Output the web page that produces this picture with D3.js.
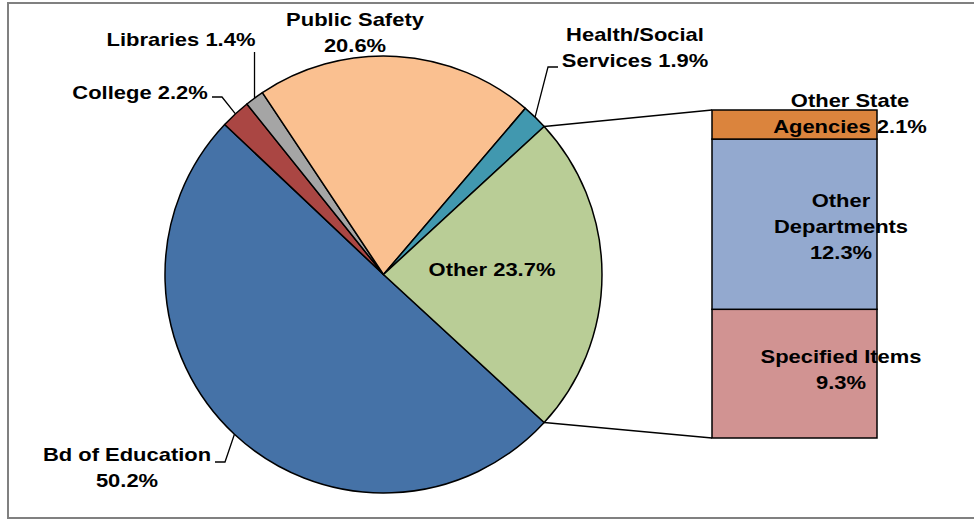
<!DOCTYPE html>
<html>
<head>
<meta charset="utf-8">
<script src="https://cdn.jsdelivr.net/npm/d3@7"></script>
<style>
  body { margin: 0; background: #fff; }
  text { font-family: "Liberation Sans", Arial, sans-serif; font-weight: bold; font-size: 18px; fill: #000; }
</style>
</head>
<body>
<div class="container"></div>
<script>
// pie slices, clockwise from the lower right
var pieNames = ['Bd of Education', 'College', 'Libraries', 'Public Safety', 'Health/Social Services', 'Other'];
var pieValues = [50.2, 2.2, 1.4, 20.6, 1.9, 23.7];
var pieColors = ['#4572A7', '#AA4643', '#A5A5A5', '#FAC090', '#4198AF', '#B9CD96'];

// breakdown of "Other", bottom to top
var barNames = ['Specified Items', 'Other Departments', 'Other State Agencies'];
var barValues = [9.3, 12.3, 2.1];
var barColors = ['#D19392', '#93A9CF', '#DB843D'];

const WIDTH = 974;
const HEIGHT = 520;
const CX = 383.5, CY = 274.5, R = 218.5;
const BAR_X = 712, BAR_W = 165, BAR_TOP = 110, BAR_BOTTOM = 438;
const STRETCH = 1.22;

var translate = function (x, y) {
  return "translate(" + x + "," + y + ")";
};

var svg = d3.select('.container').append('svg')
  .attr('width', WIDTH)
  .attr('height', HEIGHT);

svg.append('rect')
  .attr('x', 8).attr('y', 3)
  .attr('width', 990).attr('height', 515)
  .attr('fill', 'none')
  .attr('stroke', '#808080')
  .attr('stroke-width', 2);

var otherIdx = pieNames.indexOf('Other');
var start = Math.PI / 2 + (pieValues[otherIdx] / 100) * Math.PI;

var pie = d3.pie().sort(null)
  .startAngle(start)
  .endAngle(start + 2 * Math.PI);
var arcs = pie(pieValues);
var arc = d3.arc().innerRadius(0).outerRadius(R);

var g = svg.append('g').attr('transform', translate(CX, CY));
g.selectAll('path')
  .data(arcs)
  .enter().append('path')
  .attr('d', arc)
  .attr('fill', function (d, i) { return pieColors[i]; })
  .attr('stroke', '#000')
  .attr('stroke-width', 1.5)
  .attr('stroke-linejoin', 'round');

// point on the pie edge at angle a
var edge = function (a) {
  return [CX + R * Math.sin(a), CY - R * Math.cos(a)];
};

// the bar
var yScale = d3.scaleLinear()
  .domain([0, d3.sum(barValues)])
  .range([BAR_BOTTOM, BAR_TOP]);
var cum = 0;
var stacked = barValues.map(function (v) {
  var s = { y0: cum, y1: cum + v };
  cum += v;
  return s;
});
svg.selectAll('.seg')
  .data(stacked)
  .enter().append('rect')
  .attr('class', 'seg')
  .attr('x', BAR_X)
  .attr('width', BAR_W)
  .attr('y', function (d) { return yScale(d.y1); })
  .attr('height', function (d) { return yScale(d.y0) - yScale(d.y1); })
  .attr('fill', function (d, i) { return barColors[i]; })
  .attr('stroke', '#000')
  .attr('stroke-width', 1.5);

// connectors from the "Other" slice to the bar
var oa = arcs[otherIdx];
var pTop = edge(oa.startAngle), pBot = edge(oa.endAngle);
svg.append('line')
  .attr('x1', pTop[0]).attr('y1', pTop[1])
  .attr('x2', BAR_X).attr('y2', yScale(cum))
  .attr('stroke', '#000').attr('stroke-width', 1.5);
svg.append('line')
  .attr('x1', pBot[0]).attr('y1', pBot[1])
  .attr('x2', BAR_X).attr('y2', yScale(0))
  .attr('stroke', '#000').attr('stroke-width', 1.5);

// labels
var pct = function (v) { return v.toFixed(1) + '%'; };
var mid = function (i) { return (arcs[i].startAngle + arcs[i].endAngle) / 2; };

var label = function (lines, x, y) {
  var t = svg.append('text')
    .attr('text-anchor', 'middle')
    .attr('transform', translate(x, 0) + ' scale(' + STRETCH + ',1)');
  lines.forEach(function (s, k) {
    t.append('tspan').attr('x', 0).attr('y', y + k * 26).text(s);
  });
};

label(['Bd of Education', pct(pieValues[0])], 127, 461);
label(['College ' + pct(pieValues[1])], 140, 99);
label(['Libraries ' + pct(pieValues[2])], 181, 46);
label(['Public Safety', pct(pieValues[3])], 355, 26);
label(['Health/Social', 'Services ' + pct(pieValues[4])], 635, 41);
label(['Other ' + pct(pieValues[5])], 492, 276);

label(['Specified Items', pct(barValues[0])], 841, 363);
label(['Other', 'Departments', pct(barValues[1])], 841, 207);
label(['Other State', 'Agencies ' + pct(barValues[2])], 850, 107);

// leader lines
var leader = function (pts) {
  svg.append('path')
    .attr('d', d3.line()(pts))
    .attr('fill', 'none')
    .attr('stroke', '#000')
    .attr('stroke-width', 1.3);
};
var e;
e = edge(mid(0)); leader([[215, 462], [225, 462], e]);
e = edge(mid(1)); leader([[212, 97], [222, 97], e]);
e = edge(mid(2)); leader([[e[0], 52], e]);
e = edge(mid(4)); leader([[558, 67], [548, 67], e]);
</script>
</body>
</html>
